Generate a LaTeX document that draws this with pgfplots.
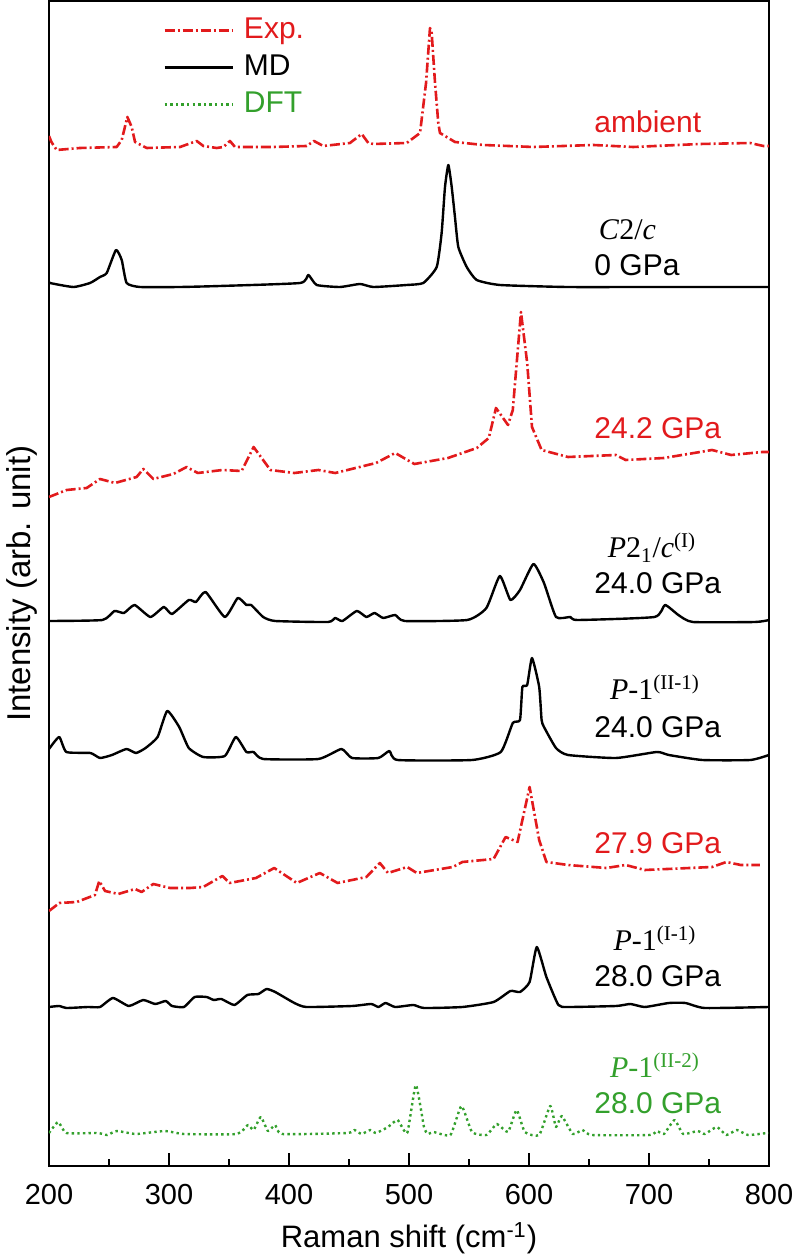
\documentclass[border=0pt]{standalone}
\usepackage{fontspec}
\setmainfont{Liberation Sans}
\newfontfamily\tnr{Liberation Serif}
\usepackage{pgfplots}
\pgfplotsset{compat=1.18}
\definecolor{myred}{RGB}{226,26,28}
\definecolor{mygreen}{RGB}{51,160,44}
\pgfplotsset{
  exp/.style={myred, line width=1.3pt, dash pattern=on 5pt off 1.5pt on 1pt off 1.5pt, line join=round},
  md/.style={black, line width=1.2pt, solid, line join=round, smooth, tension=0.3},
  dft/.style={mygreen, line width=1.2pt, dash pattern=on 1.2pt off 1.6pt, line join=round, smooth, tension=0.3},
}
\tikzset{lab/.style={inner sep=0pt, font=\fontsize{15}{18}\selectfont}}
\begin{document}
\begin{tikzpicture}
\useasboundingbox (-24.5pt,-46pt) rectangle (372pt,583pt);
\begin{axis}[
  at={(0pt,0pt)}, anchor=south west,
  scale only axis, width=360pt, height=582.25pt,
  xmin=200, xmax=800, ymin=0, ymax=1164.5,
  xtick={200,300,...,800}, minor x tick num=1,
  ytick=\empty,
  xtick pos=left, tick align=inside,
  major tick length=6.5pt, minor tick length=3.5pt,
  axis line style={line width=1pt},
  tick style={line width=1pt, black},
  /pgf/number format/assume math mode=true,
  xticklabel style={font=\fontsize{14.5}{17}\selectfont, anchor=base, yshift=-19.5pt, inner sep=0pt},
  xlabel={Raman shift (cm\textsuperscript{-1})},
  ylabel={Intensity (arb. unit)},
  xlabel style={font=\fontsize{15.5}{18}\selectfont, at={(axis description cs:0.5,-0.0704)}, anchor=base, inner sep=0pt},
  ylabel style={font=\fontsize{16.5}{19}\selectfont, at={(axis description cs:-0.0375,0.5)}, anchor=center, rotate=0},
  legend style={draw=none, fill=none, at={(axis cs:290,1156)}, anchor=north west,
    font=\fontsize{15}{18}\selectfont, row sep=2.5pt, column sep=4pt,
    nodes={text height=11pt, text depth=3pt, inner sep=1pt}, cells={anchor=west}},
  legend image code/.code={\draw[#1] (0pt,0pt) -- (34pt,0pt);},
]
\addlegendimage{exp}\addlegendentry{\textcolor{myred}{Exp.}}
\addlegendimage{md}\addlegendentry{MD}
\addlegendimage{dft}\addlegendentry{\textcolor{mygreen}{DFT}}

% ambient (Exp)
\addplot[exp, forget plot] coordinates {
(200,1030) (202,1024) (206.4,1016) (225.8,1018) (256.4,1019) (260.6,1026) (265.3,1049) (268.9,1039)
(271.7,1024) (281.4,1018) (309.2,1019) (323.1,1025) (328.6,1020) (339.7,1018) (345.3,1019)
(350.8,1025) (355,1019) (386.9,1019) (414.7,1020) (420.8,1025) (428.6,1020) (450.8,1023)
(460.6,1032) (466.1,1023) (470.3,1022) (498.1,1023) (509.2,1033) (514.2,1083) (517.5,1138)
(518.9,1133) (521.7,1083) (524.4,1043) (525.8,1033) (538.3,1024) (561.9,1021) (603.6,1019)
(653.6,1021) (686.9,1019) (742.5,1022) (784.2,1023) (795.3,1020) (800,1020)};

% C2/c MD 0 GPa
\addplot[md, forget plot] coordinates {
(200,885) (200.8,883) (220.3,879) (234.2,883) (242.5,889) (248.1,893) (255.8,916) (260.6,906)
(264.7,883) (275.8,879) (309.2,879) (342.5,880) (409.2,883) (416.1,891) (423.1,881) (442.5,879)
(459.2,882) (470.3,879) (498.1,881) (511.9,883) (523.1,899) (527.2,933) (530,979) (532.8,1001)
(535.6,979) (538.3,949) (541.1,919) (548.1,899) (556.4,886) (575.8,881) (631.4,879) (700,879)
(800,879)};

% 24.2 GPa Exp
\addplot[exp, forget plot] coordinates {
(200,669) (214.7,676) (231.4,678) (242.5,687) (255,683) (273,689) (278.6,697) (287,687)
(303.6,692) (314.7,699) (324,693) (344.5,696) (360.5,695) (370.5,719) (384.5,696) (404.5,693)
(424.5,696) (438.5,693) (472.5,703) (488.5,713) (504.5,702) (532.5,708) (556.5,718) (566.5,728)
(572.5,758) (582.5,741) (586.5,756) (593.3,854) (598.5,803) (602.5,739) (610.5,716) (632.5,709)
(672.5,711) (680.5,706) (712.5,708) (752.5,716) (768.5,711) (794.5,714) (800,714)};

% P21/c MD 24.0 GPa
\addplot[md, forget plot] coordinates {
(200,545) (244.5,546) (254.5,555) (262.5,553) (271.3,561) (284.5,549) (295.7,559) (302.5,552)
(316.5,566) (322.5,564) (330.5,574) (346.5,549) (357.3,568) (364.5,561) (368.5,561) (378.5,549)
(388.5,545) (432.5,544) (438.5,548) (444.5,545) (456.5,555) (464.5,549) (471.3,553) (478.5,548)
(488.5,551) (496.5,545) (548.5,546) (564.5,558) (575.7,590) (584.5,566) (592.5,576) (603.7,602)
(612.5,583) (622.5,549) (634.5,549) (640.5,546) (704.5,549) (713.3,561) (724.5,551) (736.5,544)
(788.5,544) (800,546)};

% P-1 (II-1) MD 24.0 GPa
\addplot[md, forget plot] coordinates {
(200,417) (208.5,429) (214.5,414) (234.5,413) (242.5,408) (252.5,411) (264.5,417) (272.5,413)
(280.5,418) (290.5,429) (298.5,455) (308.5,439) (316.5,418) (328.5,409) (346.5,410) (355.7,429)
(364.5,414) (370.5,414) (378.5,407) (424.5,407) (443.7,417) (452.5,408) (474.5,408) (483.7,415)
(490.5,406) (552.5,406) (576.5,414) (586.5,443) (592.5,446) (594.5,479) (598.5,481) (602.5,508)
(608.5,479) (610.5,446) (612.5,439) (622.5,418) (632.5,411) (672.5,408) (706.5,414) (716.5,411)
(744.5,406) (784.5,406) (800,411)};

% 27.9 GPa Exp
\addplot[exp, forget plot] coordinates {
(200,255) (208.6,263) (223.1,264) (238.3,271) (241.9,285) (246.7,275) (257.8,272) (271.7,277)
(277.2,274) (286.9,282) (300.8,278) (317.5,278) (328.5,279) (344.5,290) (350.5,283) (372.5,288)
(387.7,298) (406.5,283) (425.7,293) (440.5,283) (464.5,289) (475.7,303) (482.5,293) (498.5,299)
(506.5,293) (536.5,299) (544.5,304) (570.5,307) (580.5,329) (590.5,324) (600.5,379) (608.5,326)
(614.5,304) (632.5,301) (664.5,298) (680.5,301) (696.5,296) (752.5,299) (764.5,304) (776.5,301)
(792.5,301)};

% P-1 (I-1) MD 28.0 GPa
\addplot[md, forget plot] coordinates {
(200,159) (208.5,160) (214.5,158) (232.5,159) (242.5,159) (253.3,168) (266.5,160) (278.5,166)
(288.5,162) (297.3,165) (302.5,160) (312.5,159) (321.3,169) (331.3,169) (337.3,166) (343.7,167)
(354.5,161) (365.3,171) (374.5,172) (381.3,177) (388.5,174) (404.5,163) (414.5,159) (452.5,160)
(468.5,162) (474.5,159) (480.5,163) (488.5,159) (503.7,161) (512.5,158) (544.5,159) (570.5,164)
(584.5,175) (592.5,174) (600.5,184) (606.5,219) (614.5,189) (624.5,161) (632.5,159) (672.5,160)
(684.5,162) (696.5,159) (716.5,163) (730.5,163) (746.5,158) (800,159)};

% P-1 (II-2) DFT 28.0 GPa
\addplot[dft, forget plot] coordinates {
(200,33) (207.7,44) (214.5,33) (240.5,33) (248.5,31) (256.5,35) (272.5,32) (296.5,35) (312.5,32)
(356.5,32) (365.7,41) (370.5,36) (376.5,49) (382.5,35) (388.5,41) (394.5,32) (448.5,33) (454.5,36)
(460.5,32) (467.7,36) (472.5,33) (482.5,39) (490.5,46) (498.5,33) (505.7,81) (512.5,39) (515.7,32)
(520.5,34) (534.5,31) (543.7,60) (552.5,34) (564.5,31) (573.3,42) (582.5,34) (589.7,56) (596.5,34)
(608.5,31) (617.7,60) (622.5,39) (627.3,50) (636.5,32) (644.5,36) (652.5,31) (700.5,31) (706.5,35)
(712.5,32) (721.3,46) (728.5,32) (740.5,35) (746.5,32) (756.5,39) (764.5,31) (773.3,36) (782.5,31)
(798.5,33) (800,33)};

\node[lab, anchor=base west, text=myred] at (axis cs:654.2,1033.5) {ambient};
\node[lab, anchor=base west] at (axis cs:658,926) {\tnr\textit{C}2/\textit{c}};
\node[lab, anchor=base west] at (axis cs:654.2,890.5) {0 GPa};
\node[lab, anchor=base west, text=myred] at (axis cs:654.2,727.5) {24.2 GPa};
\node[lab, anchor=base] at (axis cs:702.5,608) {\tnr\textit{P}2\textsubscript{1}/\textit{c}\textsuperscript{(I)}};
\node[lab, anchor=base west] at (axis cs:654.2,572.5) {24.0 GPa};
\node[lab, anchor=base] at (axis cs:705,466) {\tnr\textit{P}-1\textsuperscript{(II-1)}};
\node[lab, anchor=base west] at (axis cs:654.2,428.5) {24.0 GPa};
\node[lab, anchor=base west, text=myred] at (axis cs:654.2,312.5) {27.9 GPa};
\node[lab, anchor=base] at (axis cs:705,215) {\tnr\textit{P}-1\textsuperscript{(I-1)}};
\node[lab, anchor=base west] at (axis cs:654.2,179) {28.0 GPa};
\node[lab, anchor=base, text=mygreen] at (axis cs:705,88) {\tnr\textit{P}-1\textsuperscript{(II-2)}};
\node[lab, anchor=base west, text=mygreen] at (axis cs:654.2,52.5) {28.0 GPa};
\end{axis}
\end{tikzpicture}
\end{document}
